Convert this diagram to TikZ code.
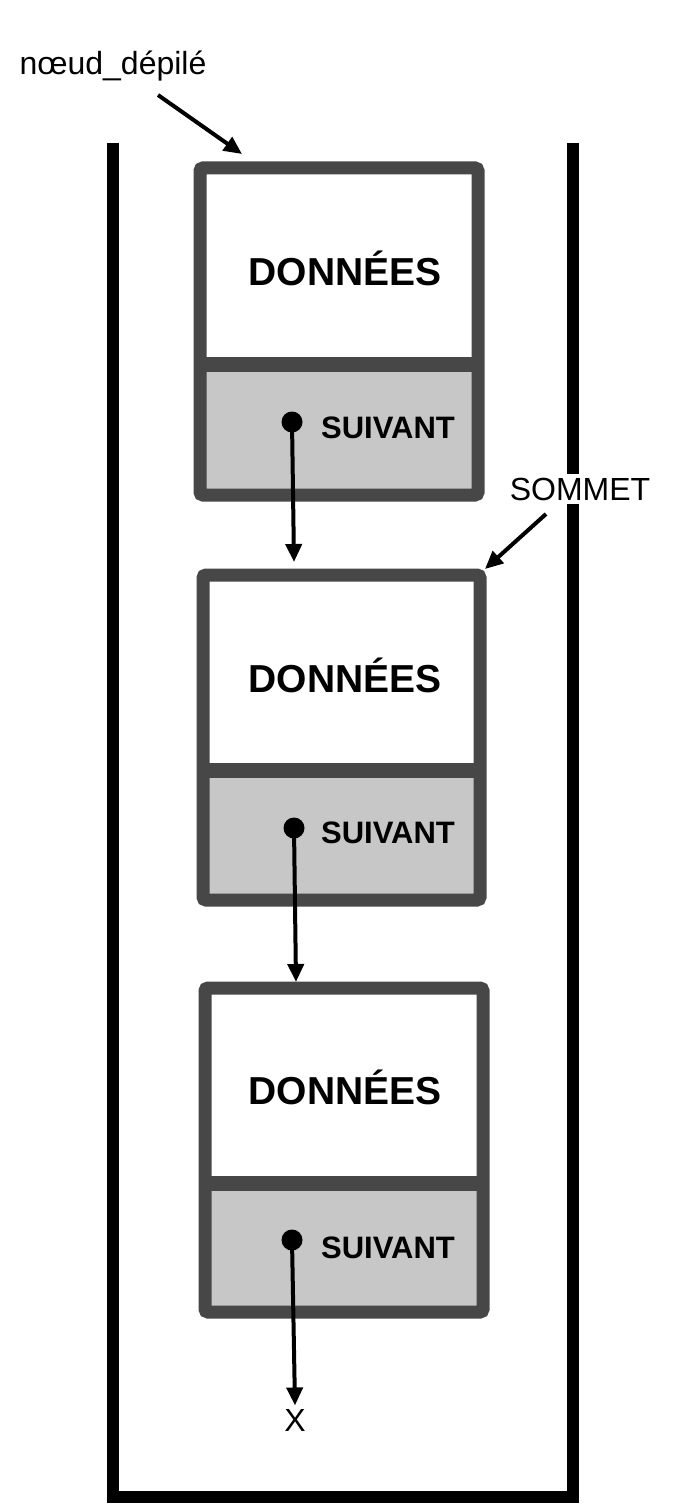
\documentclass[tikz,border=0pt]{standalone}
\usepackage{fontspec}
\setmainfont{Liberation Sans}
\usetikzlibrary{arrows.meta}
\begin{document}
\begin{tikzpicture}[x=1pt,y=-1pt,
  frame/.style={line width=12pt},
  boxout/.style={draw=black!72,line width=13pt,rounded corners=3pt},
  divider/.style={draw=black!72,line width=15pt},
  data/.style={font=\bfseries\fontsize{39}{39}\selectfont},
  nxt/.style={font=\bfseries\fontsize{31}{31}\selectfont},
  lbl/.style={font=\fontsize{32}{32}\selectfont},
  dotst/.style={circle,fill=black,inner sep=0pt,minimum size=21pt},
  arr/.style={line width=4pt,-{Triangle[length=18pt,width=16pt]}}]
\useasboundingbox[fill=white] (0,0) rectangle (688,1511);
\draw[frame] (113,143) -- (113,1497) -- (573,1497) -- (573,143);
% boxes
\foreach \i/\xl/\xr/\yt/\yd/\yb in {1/200/478/168/364/495, 2/203/480/575/770/900, 3/205/483/988/1183/1312}{
  \fill[white] (\xl,\yt) rectangle (\xr,\yd);
  \fill[black!22] (\xl,\yd) rectangle (\xr,\yb);
  \draw[divider] (\xl,\yd) -- (\xr,\yd);
  \draw[boxout] (\xl,\yt) rectangle (\xr,\yb);
}
\node[data] (d1) at (345,268) {DONNÉES};
\node[data] (d2) at (345,675) {DONNÉES};
\node[data] (d3) at (345,1087) {DONNÉES};
\node[nxt] (s1) at (388,428) {SUIVANT};
\node[nxt] (s2) at (388,833) {SUIVANT};
\node[nxt] (s3) at (388,1248) {SUIVANT};
\node[dotst] (p1) at (292,422) {};
\node[dotst] (p2) at (294,828) {};
\node[dotst] (p3) at (292,1240) {};
\coordinate (t1) at (294,562);
\coordinate (t2) at (296,982);
\node[lbl] (x) at (295,1420) {X};
\draw[arr] (p1.center) -- (t1);
\draw[arr] (p2.center) -- (t2);
\draw[arr] (p3.center) -- (x.north);
\node[lbl] (nd) at (113,66) {nœud\_dépilé};
\coordinate (nda) at (242,154);
\draw[arr] (158,95) -- (nda);
\node[lbl,fill=white,inner sep=4pt] (som) at (580,489) {SOMMET};
\coordinate (soma) at (485,569);
\draw[arr] (546,514) -- (soma);
\end{tikzpicture}
\end{document}
